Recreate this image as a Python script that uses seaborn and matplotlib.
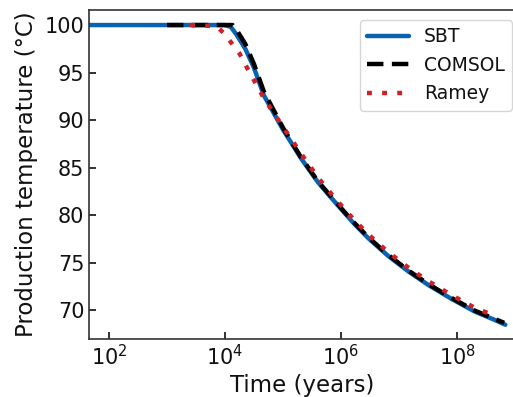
import matplotlib
matplotlib.use("Agg")
import matplotlib.pyplot as plt
import seaborn as sns
import pandas as pd

# SBT
sbt_t = [45, 1e2, 1e3, 1e4, 1.26e4, 1.58e4, 2.24e4, 3.16e4, 4.68e4, 1e5, 2.04e5, 3.98e5,
         7.59e5, 1.58e6, 2.95e6, 6.31e6, 1.45e7, 3.16e7, 8.13e7, 2e8, 4.5e8, 6.8e8]
sbt_T = [100, 100, 100, 100, 99.8, 99.0, 97.5, 95.5, 92.6, 89.0, 86.0, 83.5,
         81.5, 79.3, 77.6, 75.8, 74.1, 72.7, 71.2, 69.9, 69.0, 68.5]

# COMSOL
comsol_t = [1e3, 1e4, 1.35e4, 1.58e4, 2.24e4, 3.16e4, 4.68e4, 1e5, 2.04e5, 3.98e5,
            7.59e5, 1.58e6, 2.95e6, 6.31e6, 1.45e7, 3.16e7, 8.13e7, 2e8, 4.5e8, 6.5e8]
comsol_T = [100, 100, 100, 99.5, 98.0, 95.9, 93.0, 89.2, 86.1, 83.6,
            81.6, 79.4, 77.7, 75.9, 74.2, 72.8, 71.3, 70.0, 69.1, 68.7]

# Ramey
ramey_t = [2.5e3, 6.3e3, 8e3, 1e4, 1.26e4, 1.78e4, 2.5e4, 3.16e4, 4.68e4, 1e5, 2.04e5,
           3.98e5, 7.59e5, 1.58e6, 2.95e6, 6.31e6, 1.45e7, 3.16e7, 8.13e7, 2e8, 4.6e8]
ramey_T = [100, 99.9, 99.6, 99.0, 98.2, 97.0, 95.3, 94.2, 92.3, 89.3, 86.5,
           84.0, 81.9, 79.7, 78.0, 76.2, 74.5, 73.1, 71.6, 70.3, 69.4]

xticks = [1e2, 1e4, 1e6, 1e8]
yticks = [70, 75, 80, 85, 90, 95, 100]

sns.set_style("white")
plt.rcParams['font.family'] = ['DejaVu Sans']
plt.rcParams['text.color'] = '#111111'

fig = plt.figure(figsize=(5.13, 3.97), dpi=100)
ax = fig.add_axes([0.174, 0.1453, 0.830, 0.8295])

sns.lineplot(x=sbt_t, y=sbt_T, ax=ax, color="#0a62b0", linewidth=3.2, label="SBT")
sns.lineplot(x=comsol_t, y=comsol_T, ax=ax, color="black", linewidth=3.2,
             linestyle=(0, (3.7, 1.9)), label="COMSOL")
sns.lineplot(x=ramey_t, y=ramey_T, ax=ax, color="#d2202a", linewidth=3.2,
             linestyle=(0, (1.1, 2.3)), label="Ramey")

ax.set_xscale("log")
ax.set_xlim(45.7, 1.0e9)
ax.set_ylim(66.97, 101.58)
ax.set_xticks(xticks)
ax.set_yticks(yticks)
ax.minorticks_off()
ax.tick_params(axis="both", direction="in", length=5, width=1.3, labelsize=15,
               bottom=True, left=True, colors="#222222", labelcolor="#111111")
ax.set_xlabel("Time (years)", fontsize=16.5, labelpad=3, color="#111111")
ax.set_ylabel("Production temperature (°C)", fontsize=16.5, labelpad=5, color="#111111")
for s in ax.spines.values():
    s.set_color("#333333")
    s.set_linewidth(1.2)

leg = ax.legend(loc="upper right", bbox_to_anchor=(0.993, 0.970), borderaxespad=0,
                fontsize=13.5, handlelength=2.2, frameon=True)
leg.get_frame().set_edgecolor("#cccccc")
for t in leg.get_texts():
    t.set_color("#111111")

fig.savefig("out.png", dpi=100)
